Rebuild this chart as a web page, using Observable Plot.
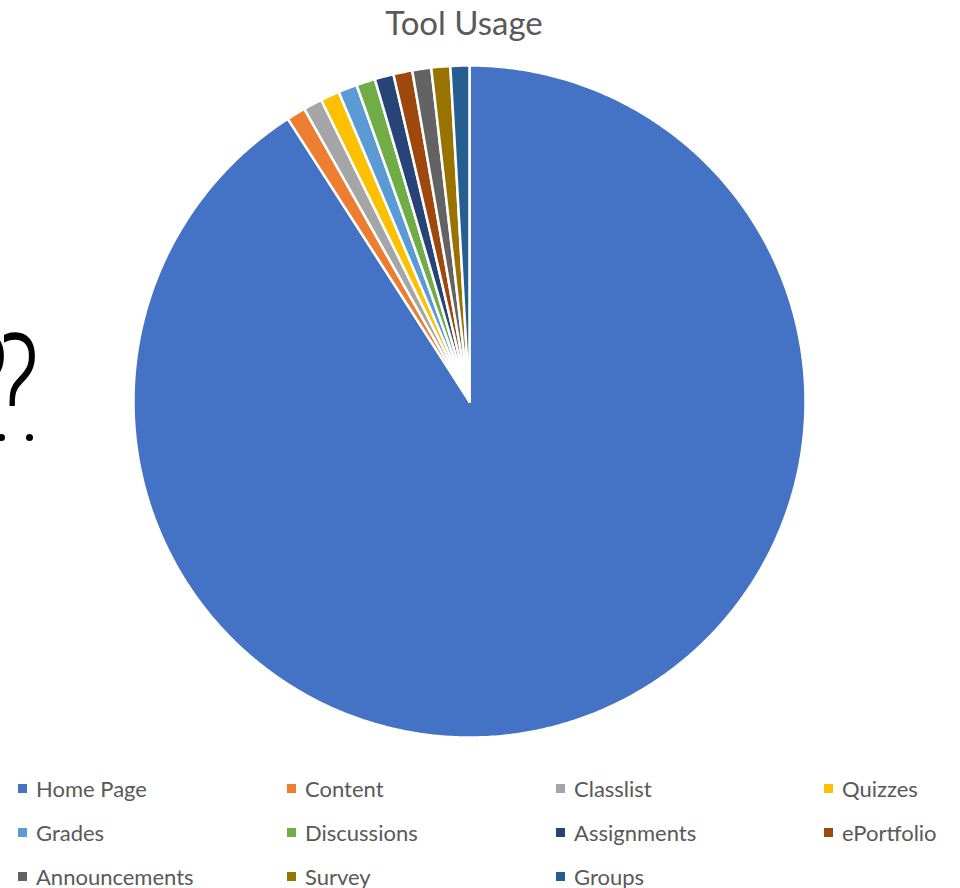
<!DOCTYPE html>
<html>
<head>
<meta charset="utf-8">
<script src="https://cdn.jsdelivr.net/npm/d3@7"></script>
<script src="https://cdn.jsdelivr.net/npm/@observablehq/plot@0.6"></script>
<style>
  html, body { margin: 0; padding: 0; background: #fff; }
  body { width: 960px; height: 888px; position: relative; overflow: hidden; font-family: Lato, "Open Sans", sans-serif; }
  #title { position: absolute; top: 0; left: 0; width: 928px; text-align: center; font-size: 33px; color: #595959; line-height: 44px; }
  #chart { position: absolute; top: 45px; left: 0; }
  #legend { position: absolute; top: 766px; left: 18px; display: grid; grid-template-columns: 269px 269px 268px 130px; row-gap: 0; }
  .item { display: flex; align-items: center; height: 44px; font-size: 22px; color: #595959; white-space: nowrap; }
  .sw { width: 9px; height: 9px; margin-right: 9px; }
  .qclip { position: absolute; top: 327px; height: 85px; width: 39px; overflow: hidden; }
  .q { position: absolute; top: -14px; font-family: "Open Sans", sans-serif; font-size: 132px; font-weight: 300; color: #000; line-height: 1; transform: scaleX(0.75); transform-origin: 0 0; -webkit-text-stroke: 1.6px #000; }
  .dot { position: absolute; width: 7px; height: 7px; border-radius: 50%; background: #000; top: 434px; }
</style>
</head>
<body>
<div class="qclip" style="left:-35px"><div class="q" style="left:0">?</div></div>
<div class="qclip" style="left:4px"><div class="q" style="left:-8px">?</div></div>
<div class="dot" style="left:-2px"></div>
<div class="dot" style="left:26px"></div>
<div id="title">Tool Usage</div>
<div id="chart"></div>
<div id="legend"></div>
<script>
const categories = ["Home Page", "Content", "Classlist", "Quizzes", "Grades", "Discussions", "Assignments", "ePortfolio", "Announcements", "Survey", "Groups"];
const values = [1000, 10, 10, 10, 10, 10, 10, 10, 10, 10, 10];
const colors = ["#4472C4", "#ED7D31", "#A5A5A5", "#FFC000", "#5B9BD5", "#70AD47", "#264478", "#9E480E", "#636363", "#997300", "#255E91"];

// Build slice polygons in unit-circle data coordinates (clockwise from 12 o'clock)
const total = d3.sum(values);
const rows = [];
let acc = 0;
categories.forEach((name, i) => {
  const a0 = acc / total * 2 * Math.PI;
  acc += values[i];
  const a1 = acc / total * 2 * Math.PI;
  rows.push({name, x: 0, y: 0});
  const n = Math.max(4, Math.ceil((a1 - a0) / (Math.PI / 360)));
  for (let k = 0; k <= n; k++) {
    const a = a0 + (a1 - a0) * k / n;
    rows.push({name, x: Math.sin(a), y: Math.cos(a)});
  }
  rows.push({name, x: 0, y: 0});
});

const chart = Plot.plot({
  width: 960,
  height: 700,
  margin: 0,
  x: {domain: [-1.3958, 1.4613], axis: null},
  y: {domain: [-1.0238, 1.0595], axis: null},
  color: {domain: categories, range: colors},
  marks: [
    Plot.line(rows, {x: "x", y: "y", z: "name", fill: "name", stroke: "white", strokeWidth: 2.5, strokeLinejoin: "miter", curve: "linear"})
  ]
});
document.getElementById("chart").appendChild(chart);

const legend = document.getElementById("legend");
categories.forEach((name, i) => {
  const it = document.createElement("div");
  it.className = "item";
  it.innerHTML = `<span class="sw" style="background:${colors[i]}"></span><span>${name}</span>`;
  legend.appendChild(it);
});
</script>
</body>
</html>
